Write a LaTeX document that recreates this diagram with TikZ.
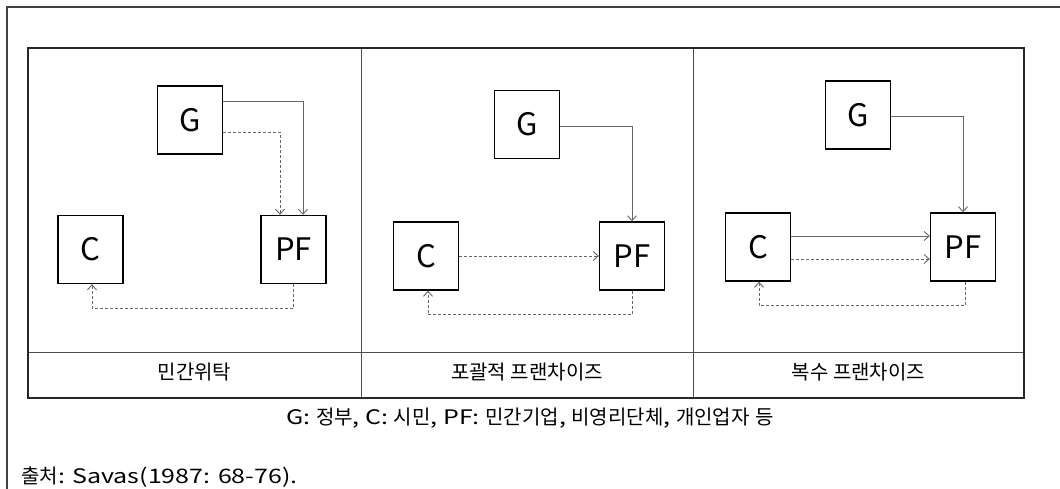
\documentclass[tikz,border=0pt]{standalone}
\usepackage{fontspec}
\setmainfont{Noto Sans CJK KR}
\newfontfamily\lat{Noto Sans CJK KR}[FakeStretch=1.25]
\usetikzlibrary{arrows.meta}
\begin{document}
\begin{tikzpicture}[x=1pt,y=-1pt,
  box/.style={draw=black,line width=1.4pt,minimum width=65pt,minimum height=68pt,inner sep=0pt,font=\fontsize{31}{31}\selectfont},
  conn/.style={draw=black!60,line width=0.9pt,-{Straight Barb[length=5pt,width=9pt]}},
  dsh/.style={conn,dash pattern=on 3pt off 2pt},
  lbl/.style={font=\fontsize{20}{24}\selectfont,inner sep=0pt},
]
\useasboundingbox (0,0) rectangle (1060,489);
\fill[white] (0,0) rectangle (1060,489);
% outer frame
\draw[black!75,line width=2pt] (7,489) -- (7,7) -- (1060,7);
% table
\draw[black!70,line width=1pt] (28,352) -- (1024,352) (361,48) -- (361,398) (693,48) -- (693,398);
\draw[black!85,line width=1.5pt] (28,48) rectangle (1024,398);

% panel 1
\node[box] (G1) at (190,120) {G};
\node[box] (C1) at (90.5,249.5) {C};
\node[box] (PF1) at (293.5,249.5) {PF};
\draw[conn] ([yshift=19pt]G1.east) -| ([xshift=9.5pt]PF1.north);
\draw[dsh] ([yshift=-12pt]G1.east) -| ([xshift=-13.5pt]PF1.north);
\draw[dsh] (PF1.south) -- ++(0,24) -| ([xshift=1.5pt]C1.south);

% panel 2
\node[box] (G2) at (527,124.5) {G};
\node[box] (C2) at (426,256) {C};
\node[box] (PF2) at (632,256) {PF};
\draw[conn] ([yshift=-1.5pt]G2.east) -| (PF2.north);
\draw[dsh] (C2.east) -- (PF2.west);
\draw[dsh] (PF2.south) -- ++(0,24) -| ([xshift=2pt]C2.south);

% panel 3
\node[box] (G3) at (858,115) {G};
\node[box] (C3) at (758,247) {C};
\node[box] (PF3) at (963,247) {PF};
\draw[conn] ([yshift=-1pt]G3.east) -| (PF3.north);
\draw[conn] ([yshift=11pt]C3.east) -- ([yshift=11pt]PF3.west);
\draw[dsh] ([yshift=-12pt]C3.east) -- ([yshift=-12pt]PF3.west);
\draw[dsh] ([xshift=2pt]PF3.south) -- ++(0,24) -| ([xshift=1pt]C3.south);

% labels
\node[lbl] (L1) at (194.5,372) {민간위탁};
\node[lbl] (L2) at (527,372) {포괄적 프랜차이즈};
\node[lbl] (L3) at (858.5,372) {복수 프랜차이즈};
\node[lbl] (cap) at (530,418) {{\lat G: }정부{\lat , C: }시민{\lat , PF: }민간기업{\lat , }비영리단체{\lat , }개인업자{\lat\ }등};
\node[lbl,anchor=west] (src) at (21,477) {출처{\lat : Savas(1987: 68-76).}};
\end{tikzpicture}
\end{document}
